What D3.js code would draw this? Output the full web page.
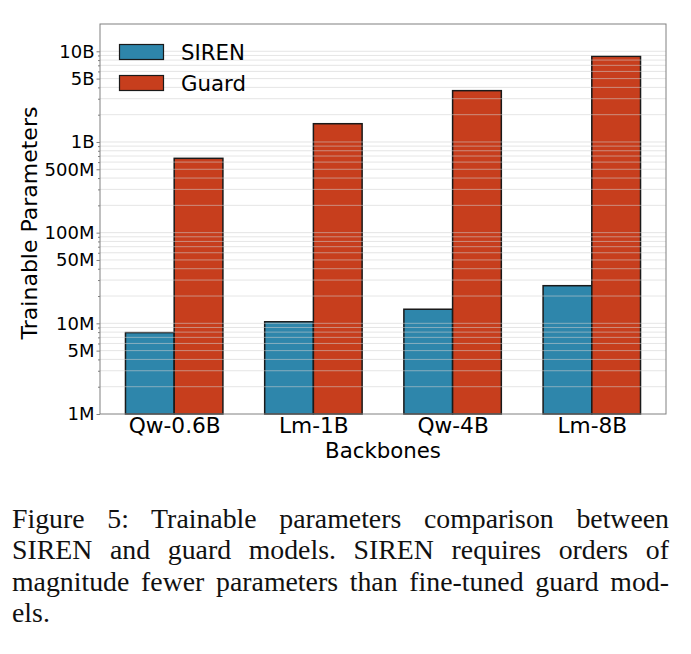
<!DOCTYPE html>
<html>
<head>
<meta charset="utf-8">
<script src="https://cdn.jsdelivr.net/npm/d3@7"></script>
<style>
    body { margin: 0; background: #fff; }
    #wrap { position: relative; width: 691px; height: 654px; }
    svg { position: absolute; left: 0; top: 0; }
    .caption {
        position: absolute; left: 12px; width: 657px;
        font-family: 'Liberation Serif', 'Times New Roman', serif;
        font-size: 27.8px; line-height: 31.3px; color: #111;
    }
    .caption div { white-space: nowrap; }
    .caption .j { text-align: justify; text-align-last: justify; white-space: normal; }
</style>
</head>
<body>
<div id="wrap">
    <svg width="691" height="480"></svg>
    <div class="caption" style="top:503px">
        <div class="j">Figure 5: Trainable parameters comparison between</div>
        <div class="j">SIREN and guard models. SIREN requires orders of</div>
        <div class="j">magnitude fewer parameters than fine-tuned guard mod-</div>
        <div>els.</div>
    </div>
</div>
<script>

    // data
    var backbones = ['Qw-0.6B', 'Lm-1B', 'Qw-4B', 'Lm-8B'];
    var seriesNames = ['SIREN', 'Guard'];
    var sirenParams = [7.9e6, 10.4e6, 14.3e6, 26e6];
    var guardParams = [0.66e9, 1.59e9, 3.68e9, 8.8e9];
    var yTickValues = [1e6, 5e6, 1e7, 5e7, 1e8, 5e8, 1e9, 5e9, 1e10];
    var yTickLabels = ['1M', '5M', '10M', '50M', '100M', '500M', '1B', '5B', '10B'];

    var colors = ['#2E86AB', '#C73E1D'];
    var sans = "'DejaVu Sans', Verdana, sans-serif";

    var svg = d3.select('svg');
    var margin = { top: 24, left: 100 },
        width = 566,
        height = 390,
        g = svg.append('g').attr('transform', 'translate(' + margin.left + ',' + margin.top + ')');

    // x: point scale with padding so groups sit like matplotlib's xlim
    var x = d3.scalePoint().domain(backbones).range([0, width]).padding(0.533);
    var barW = x.step() * 0.35;

    var y = d3.scaleLog().domain([1e6, 2e10]).range([height, 0]);

    // minor ticks, 2..9 in each decade
    var minor = [];
    for (var e = 6; e <= 10; e++) {
        for (var m = 1; m <= 9; m++) {
            var v = m * Math.pow(10, e);
            if (v < 2e10 && v > 1e6) minor.push(v);
        }
    }

    // bars
    var series = [sirenParams, guardParams];
    series.forEach(function (vals, s) {
        g.append('g').selectAll('rect')
            .data(vals)
            .enter()
            .append('rect')
            .attr('x', function (d, i) { return x(backbones[i]) + (s - 1) * barW; })
            .attr('y', function (d) { return y(d); })
            .attr('width', barW)
            .attr('height', function (d) { return height - y(d); })
            .attr('fill', colors[s])
            .attr('stroke', '#1a1a1a')
            .attr('stroke-width', 1.5);
    });

    // grid drawn over the bars, like the original
    g.append('g').selectAll('line')
        .data(minor)
        .enter()
        .append('line')
        .attr('x1', 0).attr('x2', width)
        .attr('y1', function (d) { return y(d); })
        .attr('y2', function (d) { return y(d); })
        .attr('stroke', '#d0d0d0')
        .attr('stroke-opacity', 0.55)
        .attr('stroke-width', 1);

    // minor y ticks
    g.append('g')
        .call(d3.axisLeft(y).tickValues(minor.filter(function (d) { return yTickValues.indexOf(d) < 0; }))
            .tickSize(2).tickFormat(''))
        .call(function (a) { a.select('.domain').remove(); a.selectAll('line').attr('stroke', '#808080'); });

    // major y axis
    g.append('g')
        .call(d3.axisLeft(y).tickValues(yTickValues)
            .tickFormat(function (d, i) { return yTickLabels[i]; })
            .tickSize(3.5).tickPadding(2))
        .call(function (a) {
            a.select('.domain').remove();
            a.selectAll('line').attr('stroke', '#808080');
            a.selectAll('text').attr('font-family', sans).attr('font-size', 18).attr('fill', '#000');
        });

    // x axis
    g.append('g')
        .attr('transform', 'translate(0,' + height + ')')
        .call(d3.axisBottom(x).tickSize(0))
        .call(function (a) {
            a.select('.domain').remove();
            a.selectAll('text').attr('y', 19).attr('dy', 0)
                .attr('font-family', sans).attr('font-size', 21.7).attr('fill', '#000');
        });

    // frame
    g.append('rect')
        .attr('width', width).attr('height', height)
        .attr('fill', 'none').attr('stroke', '#808080').attr('stroke-width', 1);

    // axis labels
    svg.append('text')
        .attr('x', margin.left + width / 2).attr('y', 458)
        .attr('text-anchor', 'middle')
        .attr('font-family', sans).attr('font-size', 21.3)
        .text('Backbones');

    svg.append('text')
        .attr('transform', 'translate(37,' + (margin.top + height / 2 + 4) + ') rotate(-90)')
        .attr('text-anchor', 'middle')
        .attr('font-family', sans).attr('font-size', 22)
        .text('Trainable Parameters');

    // legend
    var leg = svg.append('g').selectAll('g')
        .data(seriesNames)
        .enter()
        .append('g')
        .attr('transform', function (d, i) { return 'translate(119.5,' + (44.5 + i * 31) + ')'; });
    leg.append('rect')
        .attr('width', 44).attr('height', 15)
        .attr('fill', function (d, i) { return colors[i]; })
        .attr('stroke', '#1a1a1a').attr('stroke-width', 1.2);
    leg.append('text')
        .attr('x', 61.5).attr('y', 7.5).attr('dy', '0.36em')
        .attr('font-family', sans).attr('font-size', 21.3)
        .text(function (d) { return d; });

</script>
</body>
</html>
